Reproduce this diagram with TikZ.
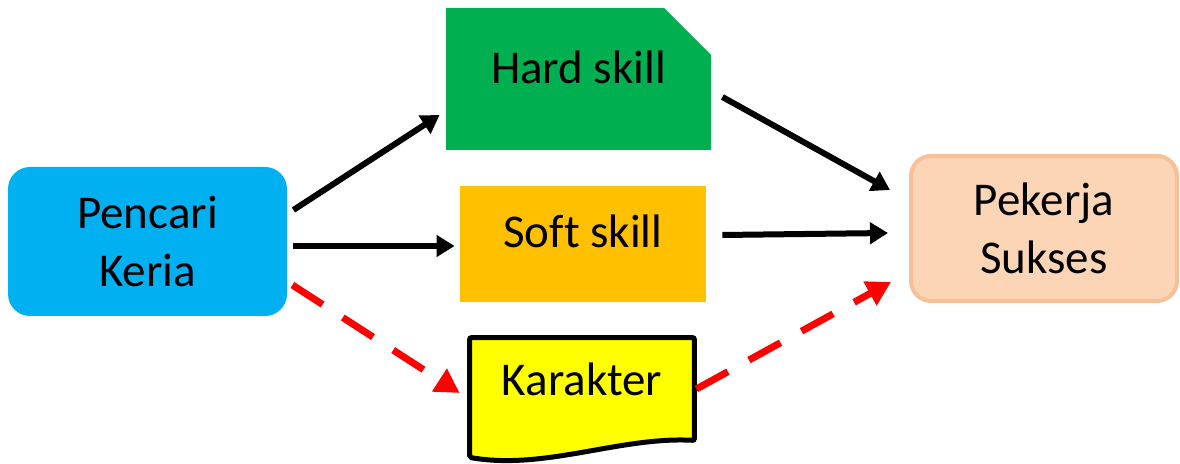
\documentclass[tikz,border=0pt]{standalone}
\usepackage{fontspec}
\setmainfont{Carlito}[Ligatures=NoCommon]
\usepackage{tikz}
\usetikzlibrary{calc, shapes, shapes.misc, arrows.meta, backgrounds}
\definecolor{boxblue}{HTML}{00B0F0}
\definecolor{boxgreen}{HTML}{00B050}
\definecolor{boxorange}{HTML}{FFC000}
\definecolor{boxyellow}{HTML}{FFFF00}
\definecolor{boxpeach}{HTML}{FBD5B5}
\definecolor{peachline}{HTML}{F8C096}
\definecolor{arrowred}{HTML}{FF0000}

\begin{document}
\begin{tikzpicture}[x=0.5pt,y=-0.5pt]
\tikzstyle{box}=[inner sep=0pt,align=center,font=\fontsize{23.5}{29}\selectfont]
\tikzstyle{arr}=[line width=3pt,-{Triangle[length=9pt,width=10.5pt]}]
\tikzstyle{redarr}=[line width=3.5pt,arrowred,dash pattern=on 18pt off 12pt,-{Triangle[length=12pt,width=13pt]}]
\useasboundingbox (0,0) rectangle (1180,464);
\node[box,fill=boxblue,rounded corners=11pt,minimum width=139.5pt,minimum height=74.5pt] (pencari) at (147.5,241.5) {Pencari\\Keria};
\node[box,fill=boxgreen,chamfered rectangle,chamfered rectangle corners=north east,chamfered rectangle xsep=11.5pt,chamfered rectangle ysep=12pt,minimum width=132.5pt,minimum height=71pt,text height=15pt,text depth=10pt] (hard) at (578.5,79) {Hard skill};
\node[box,fill=boxorange,minimum width=123pt,minimum height=58pt,text height=15pt,text depth=11pt] (soft) at (583,244) {Soft skill};
\node[box,minimum width=112pt,minimum height=51pt,text height=15pt,text depth=8pt] (karakter) at (582,389) {Karakter};
\node[box,fill=boxpeach,draw=peachline,line width=2pt,rounded corners=10pt,minimum width=133pt,minimum height=72.5pt] (pekerja) at (1044,228.5) {Pekerja\\Sukses};
% document shape behind Karakter
\begin{scope}[on background layer]
\filldraw[fill=boxyellow,draw=black,line width=2.5pt,rounded corners=1pt] (karakter.north west) -- (karakter.north east) -- (karakter.south east)
  .. controls ($(karakter.south east)+(-74,-4)$) and ($(karakter.south west)+(75,30)$) .. ($(karakter.south west)+(0,17)$) -- cycle;
\end{scope}
% arrows
\draw[arr] ([shift={(6,-31.5)}]pencari.east) -- ([shift={(-6,36)}]hard.west);
\draw[arr] ([shift={(6,4.5)}]pencari.east) -- ([shift={(-5,2)}]soft.west);
\draw[redarr] ([shift={(5,43.5)}]pencari.east) -- ([shift={(-10,4)}]karakter.west);
\draw[arr] ([shift={(11,18)}]hard.east) -- ([shift={(-19,-38.5)}]pekerja.west);
\draw[arr] ([shift={(16,-9)}]soft.east) -- ([shift={(-21,4.5)}]pekerja.west);
\draw[redarr] ([shift={(2,0)}]karakter.east) -- ([shift={(-18,53.5)}]pekerja.west);
\end{tikzpicture}
\end{document}
